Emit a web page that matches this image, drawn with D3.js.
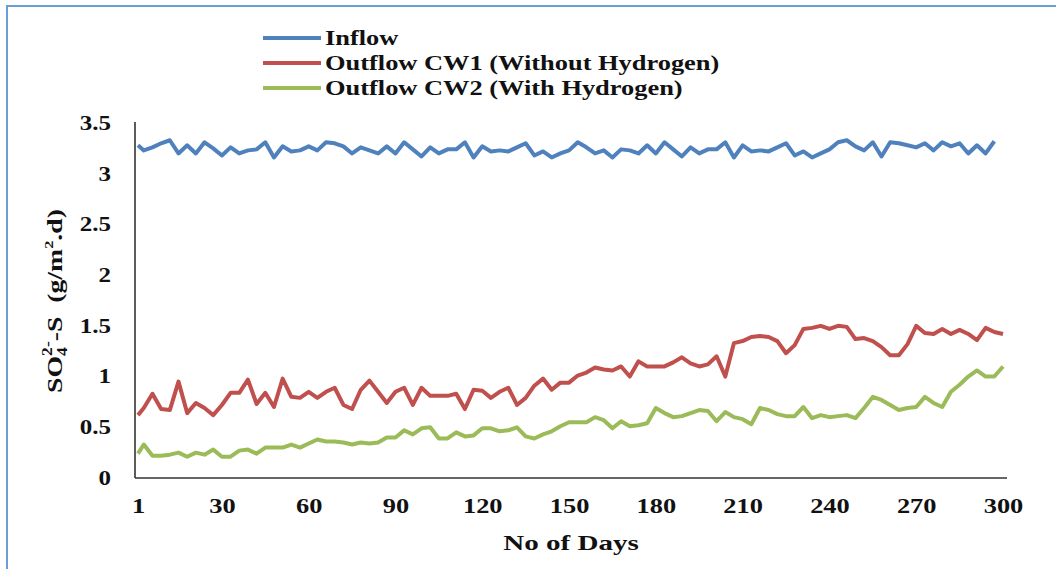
<!DOCTYPE html>
<html>
<head>
<meta charset="utf-8">
<script src="https://cdn.jsdelivr.net/npm/d3@7"></script>
<style>
  html, body { margin: 0; padding: 0; background: #ffffff; }
  svg { display: block; }
  text { font-family: "Liberation Serif", "Times New Roman", serif; font-weight: bold; fill: #111; }
</style>
</head>
<body>
<svg id="chart" width="1056" height="569"></svg>
<script>
// Sampling days (every third day across the 300-day run)
const days = [1,3,6,9,12,15,18,21,24,27,30,33,36,39,42,45,48,51,54,57,60,63,66,69,72,75,78,81,84,87,90,
  93,96,99,102,105,108,111,114,117,120,123,126,129,132,135,138,141,144,147,150,153,156,159,162,165,168,171,174,177,180,
  183,186,189,192,195,198,201,204,207,210,213,216,219,222,225,228,231,234,237,240,243,246,249,252,255,258,261,264,267,270,
  273,276,279,282,285,288,291,294,297,300];

// SO4-S loading, g/m2.d
const inflow = [3.28,3.23,3.26,3.30,3.33,3.20,3.28,3.20,3.31,3.25,3.18,3.26,3.20,3.23,3.24,3.31,3.16,3.27,3.22,3.23,
  3.27,3.23,3.31,3.30,3.27,3.20,3.26,3.23,3.20,3.27,3.20,3.31,3.24,3.17,3.26,3.20,3.24,3.24,3.31,3.16,
  3.27,3.22,3.23,3.22,3.26,3.30,3.18,3.22,3.16,3.20,3.23,3.31,3.26,3.20,3.23,3.16,3.24,3.23,3.20,3.28,
  3.20,3.31,3.24,3.17,3.26,3.20,3.24,
  3.24,3.31,3.16,3.28,3.22,3.23,3.22,3.26,3.30,3.18,3.22,3.16,3.20,3.24,3.31,3.33,3.27,3.23,3.31,3.17,
  3.31,3.30,3.28,3.26,3.30,3.23,3.31,3.27,3.30,3.20,3.28,3.20,3.32];

const outflowCW1 = [0.62,0.69,0.83,0.68,0.67,0.95,0.64,0.74,0.69,0.62,0.72,0.84,0.84,0.97,0.73,0.84,0.70,0.98,0.80,0.79,
  0.85,0.79,0.85,0.89,0.72,0.68,0.87,0.96,0.85,0.74,0.85,0.89,0.72,0.89,0.81,0.81,0.81,0.83,0.68,0.87,
  0.86,0.79,0.85,0.89,0.72,0.79,0.91,0.98,0.87,0.94,0.94,1.01,1.04,1.09,1.07,1.06,1.10,1.00,1.15,1.10,
  1.10,1.10,1.14,1.19,1.13,1.10,1.12,
  1.20,1.00,1.33,1.35,1.39,1.40,1.39,1.35,1.23,1.31,1.47,1.48,1.50,1.47,1.50,1.49,1.37,1.38,1.35,1.29,
  1.21,1.21,1.32,1.50,1.43,1.42,1.47,1.42,1.46,1.42,1.36,1.48,1.44,1.42];

const outflowCW2 = [0.24,0.33,0.22,0.22,0.23,0.25,0.21,0.25,0.23,0.28,0.21,0.21,0.27,0.28,0.24,0.30,0.30,0.30,0.33,0.30,
  0.34,0.38,0.36,0.36,0.35,0.33,0.35,0.34,0.35,0.40,0.40,0.47,0.43,0.49,0.50,0.39,0.39,0.45,0.41,0.42,
  0.49,0.49,0.46,0.47,0.50,0.41,0.39,0.43,0.46,0.51,0.55,0.55,0.55,0.60,0.57,0.49,0.56,0.51,0.52,0.54,
  0.69,0.64,0.60,0.61,0.64,0.67,0.66,
  0.56,0.65,0.60,0.58,0.53,0.69,0.67,0.63,0.61,0.61,0.70,0.59,0.62,0.60,0.61,0.62,0.59,0.69,0.80,0.77,
  0.72,0.67,0.69,0.70,0.80,0.74,0.70,0.85,0.92,1.00,1.06,1.00,1.00,1.10];

const seriesNames = ["Inflow", "Outflow CW1 (Without Hydrogen)", "Outflow CW2 (With Hydrogen)"];
const seriesColors = ["#4F81BD", "#C0504D", "#9BBB59"];
const yTicks = [0, 0.5, 1, 1.5, 2, 2.5, 3, 3.5];
const xTicks = [1, 30, 60, 90, 120, 150, 180, 210, 240, 270, 300];

// the type is set wide, so every label is stretched along its baseline
const WIDEN = 1.32;
function widen(sel, f) {
  sel.each(function () {
    const w = this.getComputedTextLength();
    d3.select(this).attr("textLength", w * f).attr("lengthAdjust", "spacingAndGlyphs");
  });
}

const svg = d3.select("#chart");

// chart frame
svg.append("rect")
  .attr("x", 7).attr("y", 6).attr("width", 1100).attr("height", 600)
  .attr("fill", "none").attr("stroke", "#6a9fd6").attr("stroke-width", 2);

const x = d3.scaleLinear().domain([1, 300]).range([138, 1003]);
const y = d3.scaleLinear().domain([0, 3.5]).range([478, 123]);

// axes
const yAxis = svg.append("g").attr("transform", "translate(135,0)")
  .call(d3.axisLeft(y).tickValues(yTicks).tickSize(0).tickPadding(24).tickFormat(d3.format("")));
yAxis.select(".domain").attr("stroke", "#333").attr("stroke-width", 1.6).attr("d", "M0,122V478");
yAxis.selectAll("text").attr("font-size", 20).style("font-family", "Liberation Serif").style("font-weight", "bold").attr("fill", "#111");
widen(yAxis.selectAll("text"), 1.25);

const xAxis = svg.append("g").attr("transform", "translate(0,478)")
  .call(d3.axisBottom(x).tickValues(xTicks).tickSize(0).tickPadding(21).tickFormat(d3.format("d")));
xAxis.select(".domain").attr("stroke", "#333").attr("stroke-width", 1.6).attr("d", "M135,0H1007");
xAxis.selectAll("text").attr("font-size", 20).style("font-family", "Liberation Serif").style("font-weight", "bold").attr("fill", "#111");
widen(xAxis.selectAll("text"), WIDEN);

// series lines
const line = d3.line().x((d, i) => x(days[i])).y(d => y(d));
[inflow, outflowCW1, outflowCW2].forEach((vals, k) => {
  svg.append("path").datum(vals)
    .attr("d", line)
    .attr("fill", "none")
    .attr("stroke", seriesColors[k])
    .attr("stroke-width", 4)
    .attr("stroke-linejoin", "round");
});

// legend
const legend = svg.append("g");
seriesNames.forEach((name, k) => {
  const ly = 38 + k * 25;
  legend.append("line").attr("x1", 263).attr("x2", 321).attr("y1", ly).attr("y2", ly)
    .attr("stroke", seriesColors[k]).attr("stroke-width", 4);
  legend.append("text").attr("x", 325).attr("y", ly + 7).attr("font-size", 20).text(name);
});
widen(legend.selectAll("text"), WIDEN);

// axis titles
const xt = svg.append("text").attr("x", 571).attr("y", 550).attr("text-anchor", "middle")
  .attr("font-size", 22).text("No of Days");
widen(xt, WIDEN);

const yt = svg.append("text").attr("transform", "translate(62,301) rotate(-90) scale(1.26,1)")
  .attr("text-anchor", "middle").attr("font-size", 22);
yt.append("tspan").text("SO");
yt.append("tspan").attr("font-size", 14).attr("dy", 5).text("4");
yt.append("tspan").attr("font-size", 14).attr("dy", -15).attr("dx", -7).text("2-");
yt.append("tspan").attr("dy", 10).text("-S\u00A0 (g/m");
yt.append("tspan").attr("font-size", 13).attr("dy", -9).text("2");
yt.append("tspan").attr("dy", 9).text(".d)");
</script>
</body>
</html>
